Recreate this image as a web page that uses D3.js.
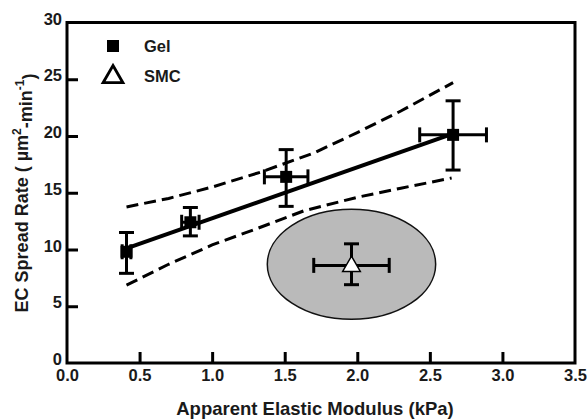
<!DOCTYPE html>
<html lang="en">
  <head>
    <meta charset="utf-8">
    <title>EC spread rate vs elastic modulus</title>
    <script src="https://cdn.jsdelivr.net/npm/d3@7"></script>
    <style>
      body { margin: 0; background: #fff; }
      text { font-family: "Liberation Sans", Arial, sans-serif; font-weight: bold; fill: #1a1a1a; }
    </style>
  </head>
  <body>
    <script>

      /* data */
      const gel_x = [0.41, 0.85, 1.51, 2.66];
      const gel_y = [9.8, 12.4, 16.4, 20.1];
      const gel_xerr = [0.03, 0.06, 0.15, 0.23];
      const gel_yerr_hi = [11.5, 13.7, 18.8, 23.1];
      const gel_yerr_lo = [7.9, 11.2, 13.8, 17.0];

      const smc_x = [1.96];
      const smc_y = [8.6];
      const smc_xerr = [0.26];
      const smc_yerr_hi = [10.5];
      const smc_yerr_lo = [6.9];

      // regression line and 95% band (dashed)
      const fit_x = [0.41, 2.66];
      const fit_y = [10.1, 20.2];
      const upper_x = [0.41, 0.7, 1.0, 1.33, 1.7, 2.0, 2.3, 2.66];
      const upper_y = [13.75, 14.5, 15.5, 16.8, 18.5, 20.3, 22.2, 24.7];
      const lower_x = [0.41, 0.7, 1.0, 1.3, 1.63, 2.0, 2.3, 2.65];
      const lower_y = [6.86, 8.7, 10.4, 11.8, 13.4, 14.6, 15.4, 16.3];

      // grey ellipse around the SMC point
      const ell_c = [1.96, 8.7];
      const ell_r = [0.58, 4.85];

      const x_ticks = [0, 0.5, 1.0, 1.5, 2.0, 2.5, 3.0, 3.5];
      const y_ticks = [0, 5, 10, 15, 20, 25, 30];

      const W = 587, H = 419;
      const LEFT = 67, RIGHT = 575, TOP = 22.5, BOTTOM = 363;
      const CAP = 7.5;

      let svg = d3.select("body").append("svg")
        .attr("width", W)
        .attr("height", H);

      let x = d3.scaleLinear().domain([0, 3.5]).range([LEFT, RIGHT]);
      let y = d3.scaleLinear().domain([0, 30]).range([BOTTOM, TOP]);

      /* ellipse first, under everything */
      svg.append("ellipse")
        .attr("cx", x(ell_c[0]))
        .attr("cy", y(ell_c[1]))
        .attr("rx", x(ell_c[0] + ell_r[0]) - x(ell_c[0]))
        .attr("ry", y(0) - y(ell_r[1]))
        .attr("fill", "#bababa")
        .attr("stroke", "#111")
        .attr("stroke-width", 1.5);

      /* frame */
      svg.append("rect")
        .attr("x", LEFT).attr("y", TOP)
        .attr("width", RIGHT - LEFT).attr("height", BOTTOM - TOP)
        .attr("fill", "none")
        .attr("stroke", "#000")
        .attr("stroke-width", 3);

      /* axes, ticks pointing inward */
      let x_axis = svg.append("g")
        .attr("transform", "translate(0," + BOTTOM + ")")
        .call(d3.axisBottom(x).tickValues(x_ticks).tickSize(-11).tickPadding(17).tickFormat(d3.format(".1f")));
      let y_axis = svg.append("g")
        .attr("transform", "translate(" + LEFT + ",0)")
        .call(d3.axisLeft(y).tickValues(y_ticks).tickSize(-11).tickPadding(16).tickFormat(d3.format("d")));

      [x_axis, y_axis].forEach(function(a){
        a.select(".domain").remove();
        a.selectAll(".tick line").attr("stroke", "#000").attr("stroke-width", 3);
        a.selectAll(".tick text")
          .attr("font-size", 16.5)
          .attr("font-family", null)
          .attr("fill", "#1a1a1a");
      });
      x_axis.selectAll(".tick text").attr("dy", "0.71em").attr("y", 6);
      y_axis.selectAll(".tick text").attr("dy", "0.1em").attr("x", -5);
      // no tick marks at the corners
      x_axis.selectAll(".tick").filter(d => d === 0 || d === 3.5).select("line").remove();
      y_axis.selectAll(".tick").filter(d => d === 0 || d === 30).select("line").remove();

      /* band and fit */
      let line = d3.line().x(d => x(d[0])).y(d => y(d[1]));
      svg.append("path")
        .attr("d", line(d3.zip(upper_x, upper_y)))
        .attr("fill", "none").attr("stroke", "#000")
        .attr("stroke-width", 3).attr("stroke-dasharray", "12,6");
      svg.append("path")
        .attr("d", line(d3.zip(lower_x, lower_y)))
        .attr("fill", "none").attr("stroke", "#000")
        .attr("stroke-width", 3).attr("stroke-dasharray", "12,6");
      svg.append("path")
        .attr("d", line(d3.zip(fit_x, fit_y)))
        .attr("fill", "none").attr("stroke", "#000")
        .attr("stroke-width", 4);

      /* error bars */
      function add_errbars(g, xs, ys, xe, yhi, ylo){
        xs.forEach(function(v, i){
          let px = x(v), py = y(ys[i]);
          let x1 = x(v - xe[i]), x2 = x(v + xe[i]);
          let y1 = y(yhi[i]), y2 = y(ylo[i]);
          let segs = [
            [px, y1, px, y2], [px - CAP, y1, px + CAP, y1], [px - CAP, y2, px + CAP, y2],
            [x1, py, x2, py], [x1, py - CAP, x1, py + CAP], [x2, py - CAP, x2, py + CAP]
          ];
          segs.forEach(function(s){
            g.append("line")
              .attr("x1", s[0]).attr("y1", s[1])
              .attr("x2", s[2]).attr("y2", s[3])
              .attr("stroke", "#000")
              .attr("stroke-width", 3);
          });
        });
      }

      let g_marks = svg.append("g");
      add_errbars(g_marks, gel_x, gel_y, gel_xerr, gel_yerr_hi, gel_yerr_lo);
      add_errbars(g_marks, smc_x, smc_y, smc_xerr, smc_yerr_hi, smc_yerr_lo);

      let sq = d3.symbol().type(d3.symbolSquare).size(144);
      let tri = d3.symbol().type(d3.symbolTriangle).size(135);

      g_marks.selectAll(".gel").data(d3.zip(gel_x, gel_y)).join("path")
        .attr("class", "gel")
        .attr("d", sq)
        .attr("transform", d => "translate(" + x(d[0]) + "," + y(d[1]) + ")")
        .attr("fill", "#000");

      g_marks.selectAll(".smc").data(d3.zip(smc_x, smc_y)).join("path")
        .attr("class", "smc")
        .attr("d", tri)
        .attr("transform", d => "translate(" + x(d[0]) + "," + (y(d[1]) + 1) + ")")
        .attr("fill", "#fff")
        .attr("stroke", "#000")
        .attr("stroke-width", 1.5);

      /* legend */
      let legend = svg.append("g");
      legend.append("rect")
        .attr("x", 107).attr("y", 40)
        .attr("width", 12).attr("height", 12)
        .attr("fill", "#000");
      legend.append("path")
        .attr("d", d3.symbol().type(d3.symbolTriangle).size(170))
        .attr("transform", "translate(113,77)")
        .attr("fill", "#fff")
        .attr("stroke", "#000")
        .attr("stroke-width", 2.8);
      legend.append("text").attr("x", 144).attr("y", 52).attr("font-size", 16.5).text("Gel");
      legend.append("text").attr("x", 144).attr("y", 82).attr("font-size", 16.5).text("SMC");

      /* axis titles */
      svg.append("text")
        .attr("x", 315)
        .attr("y", 415)
        .attr("text-anchor", "middle")
        .attr("font-size", 18.5)
        .text("Apparent Elastic Modulus (kPa)");

      let ytitle = svg.append("text")
        .attr("transform", "translate(28,193) rotate(-90)")
        .attr("text-anchor", "middle")
        .attr("font-size", 18);
      ytitle.append("tspan").text("EC Spread Rate ( \u00b5m");
      ytitle.append("tspan").attr("font-size", 12).attr("dy", "-0.6em").text("2");
      ytitle.append("tspan").attr("dy", "0.6em").text("-min");
      ytitle.append("tspan").attr("font-size", 12).attr("dy", "-0.6em").text("-1");
      ytitle.append("tspan").attr("dy", "0.6em").text(")");

    </script>
  </body>
</html>
